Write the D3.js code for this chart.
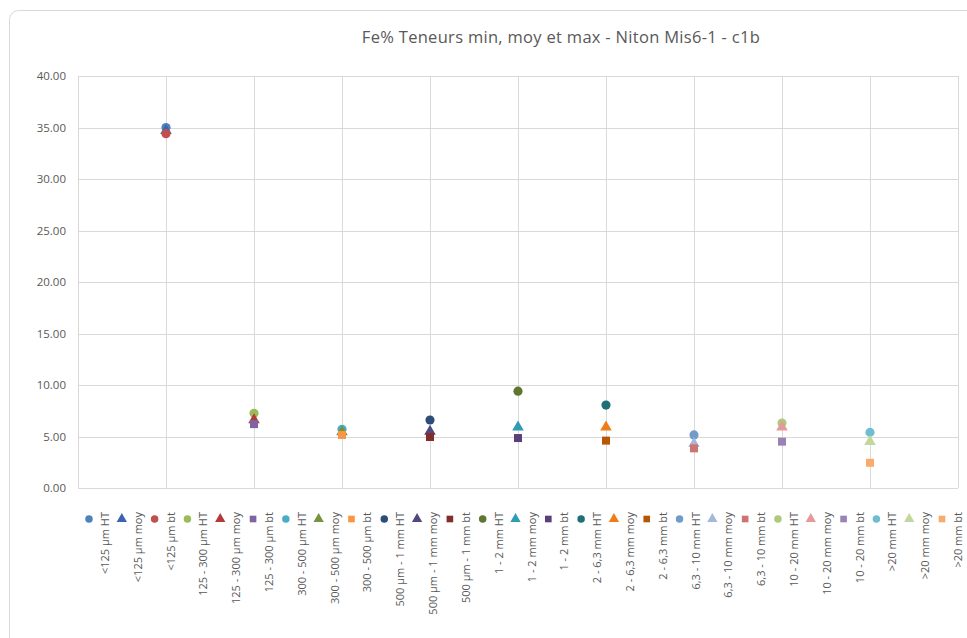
<!DOCTYPE html>
<html>
<head>
<meta charset="utf-8">
<script src="https://cdn.jsdelivr.net/npm/d3@7"></script>
<style>
  html, body { margin: 0; padding: 0; background: #ffffff; }
  svg { display: block; }
  text { font-family: "Open Sans", "Liberation Sans", sans-serif; fill: #595959; }
</style>
</head>
<body>
<svg id="chart" width="967" height="638"></svg>
<script>
// ---- data ----
const title = "Fe% Teneurs min, moy et max - Niton Mis6-1 - c1b";
const categories = ["<125 µm", "125 - 300 µm", "300 - 500 µm", "500 µm - 1 mm", "1 - 2 mm", "2 - 6,3 mm", "6,3 - 10 mm", "10 - 20 mm", ">20 mm"];
const xPositions = [1, 2, 3, 4, 5, 6, 7, 8, 9];
const valuesHT  = [35.0, 7.25, 5.7, 6.6, 9.4, 8.05, 5.15, 6.3, 5.4];
const valuesMoy = [34.7, 6.6, 5.45, 5.5, 5.9, 5.9, 4.3, 5.9, 4.5];
const valuesBt  = [34.4, 6.2, 5.15, 4.95, 4.85, 4.6, 3.85, 4.5, 2.45];
const statNames = ["HT", "moy", "bt"];
const seriesColors = [
  "#4F81BD", "#3C64AE", "#C0504D",
  "#9BBB59", "#B33A3A", "#8064A2",
  "#4BACC6", "#77933C", "#F79646",
  "#2C4D75", "#4E4A80", "#832C2C",
  "#5F7530", "#2E9CB5", "#5A3F7A",
  "#1F6F77", "#F07C18", "#B65708",
  "#729ACA", "#A5B8DC", "#CD7371",
  "#AFC97A", "#E49A9A", "#9983B5",
  "#6FBDD1", "#C3D69B", "#F9AB6B"
];
const seriesShapes = [
  "circle", "triangle", "circle",
  "circle", "triangle", "square",
  "circle", "triangle", "square",
  "circle", "triangle", "square",
  "circle", "triangle", "square",
  "circle", "triangle", "square",
  "circle", "triangle", "square",
  "circle", "triangle", "square",
  "circle", "triangle", "square"
];
const yTicks = [0, 5, 10, 15, 20, 25, 30, 35, 40];
const xGridTicks = [0, 1, 2, 3, 4, 5, 6, 7, 8, 9, 10];

// build series table (one series per category x stat)
const series = [];
categories.forEach((c, i) => {
  [valuesHT, valuesMoy, valuesBt].forEach((arr, j) => {
    const k = i * 3 + j;
    series.push({ name: c + " " + statNames[j], x: xPositions[i], y: arr[i], color: seriesColors[k], shape: seriesShapes[k] });
  });
});

// ---- drawing ----
const svg = d3.select("#chart");
const plot = { left: 78, right: 958, top: 76, bottom: 488 };

// chart frame
svg.append("rect")
  .attr("x", 9.5).attr("y", 10.5)
  .attr("width", 970).attr("height", 640)
  .attr("rx", 9).attr("ry", 9)
  .attr("fill", "#ffffff")
  .attr("stroke", "#D9D9D9").attr("stroke-width", 1);

const x = d3.scaleLinear().domain([0, 10]).range([plot.left, plot.right]);
const y = d3.scaleLinear().domain([0, 40]).range([plot.bottom, plot.top]);

// title
svg.append("text")
  .attr("x", 561).attr("y", 43)
  .attr("text-anchor", "middle")
  .style("font-size", "16.5px")
  .style("letter-spacing", "0.3px")
  .text(title);

// gridlines
const grid = svg.append("g");
grid.selectAll("line.h").data(yTicks).join("line")
  .attr("x1", plot.left).attr("x2", plot.right)
  .attr("y1", d => Math.round(y(d)) + 0.5).attr("y2", d => Math.round(y(d)) + 0.5)
  .attr("stroke", "#D9D9D9").attr("stroke-width", 1);
grid.selectAll("line.v").data(xGridTicks).join("line")
  .attr("y1", plot.top).attr("y2", plot.bottom)
  .attr("x1", d => Math.round(x(d)) + 0.5).attr("x2", d => Math.round(x(d)) + 0.5)
  .attr("stroke", "#D9D9D9").attr("stroke-width", 1);

// y axis labels via d3 axis
const yAxis = d3.axisLeft(y).tickValues(yTicks).tickFormat(d3.format(".2f")).tickSize(0).tickPadding(12);
const yg = svg.append("g").attr("transform", `translate(${plot.left},0)`).call(yAxis);
yg.select(".domain").remove();
yg.selectAll("text")
  .style("font-size", "11.5px")
  .style("font-family", '"Open Sans", "Liberation Sans", sans-serif')
  .attr("fill", "#595959");

// markers
const symType = { circle: d3.symbolCircle, triangle: d3.symbolTriangle, square: d3.symbolSquare };
const symSize = { circle: 66, triangle: 58, square: 64 };
svg.append("g").selectAll("path").data(series).join("path")
  .attr("d", d => d3.symbol().type(symType[d.shape]).size(symSize[d.shape])())
  .attr("transform", d => `translate(${x(d.x)},${y(d.y)})`)
  .attr("fill", d => d.color);

// legend (rotated labels)
const legX = d3.scaleLinear().domain([0, series.length - 1]).range([89, 942]);
const leg = svg.append("g");
const items = leg.selectAll("g").data(series).join("g")
  .attr("transform", (d, i) => `translate(${legX(i)},519)`);
items.append("path")
  .attr("d", d => d3.symbol().type(symType[d.shape]).size(d.shape === "triangle" ? 46 : 44)())
  .attr("fill", d => d.color);
items.append("text")
  .attr("transform", "translate(20,-7) rotate(-90)")
  .attr("text-anchor", "end")
  .style("font-size", "11px")
  .text(d => d.name);
</script>
</body>
</html>
